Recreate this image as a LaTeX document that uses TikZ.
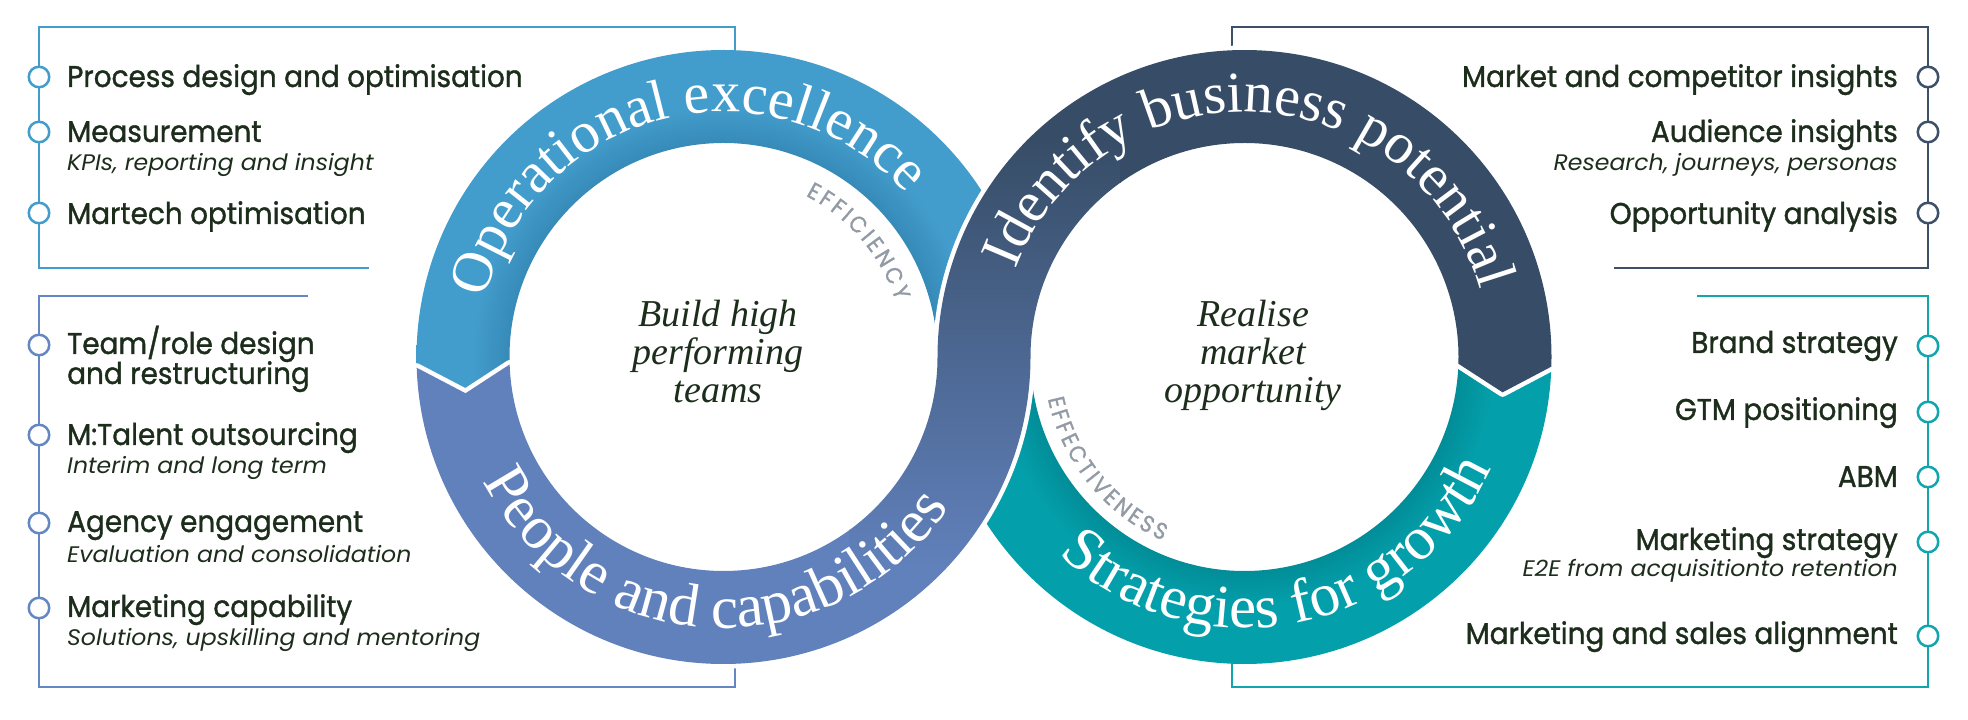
\documentclass[tikz,border=0pt]{standalone}
\usepackage{fontspec}
\usetikzlibrary{calc,decorations.text}

\newfontfamily\itemfont{Poppins}[FakeStretch=0.93, FakeBold=1.2]
\newfontfamily\subfont{Poppins}[FakeStretch=1.05]
\newfontfamily\ringfont{Liberation Serif}

\definecolor{opblue}{RGB}{67,157,204}
\definecolor{opbluedark}{RGB}{54,138,184}
\definecolor{purp}{RGB}{97,129,188}
\definecolor{navy}{RGB}{55,77,103}
\definecolor{teal}{RGB}{3,160,171}
\definecolor{tealdark}{RGB}{2,141,152}
\definecolor{ink}{RGB}{29,45,28}
\definecolor{labelgray}{RGB}{146,154,165}
\definecolor{purpline}{RGB}{100,135,196}
\definecolor{navyline}{RGB}{62,80,104}
\definecolor{tealline}{RGB}{17,165,174}

% darker towards the inner edge of a ring
\pgfdeclareradialshading{blueinner}{\pgfpoint{0bp}{0bp}}{color(0bp)=(opbluedark); color(17.4bp)=(opbluedark); color(20.5bp)=(opblue); color(50bp)=(opblue)}
\pgfdeclareradialshading{tealinner}{\pgfpoint{0bp}{0bp}}{color(0bp)=(tealdark); color(17.4bp)=(tealdark); color(20.5bp)=(teal); color(50bp)=(teal)}

\newcommand{\ringlabel}{\ringfont\fontsize{58}{60}\selectfont\color{white}}
\newcommand{\ringlabelb}{\ringfont\fontsize{61}{64}\selectfont\color{white}}
\newcommand{\graylabel}{\itemfont\fontsize{23}{25}\selectfont\color{labelgray}}

% the band that goes over at the crossing
\newcommand{\overband}{($(L)+(182:307pt)$) arc[start angle=182, end angle=360, radius=307pt]
  arc[start angle=180, end angle=-1.8, radius=214pt]
  -- ($(R)+(-7.8:260.5pt)$) -- ($(R)+(-1.8:307pt)$)
  arc[start angle=-1.8, end angle=180, radius=307pt]
  arc[start angle=0, end angle=-178, radius=214pt]
  -- ($(L)+(188:260.5pt)$) -- cycle}

\tikzset{
  frame/.style={draw=#1, line width=2.5pt},
  bullet/.style={circle, draw=#1, fill=white, line width=2.5pt, minimum size=20.5pt, inner sep=0pt},
  item/.style={font=\itemfont\fontsize{30}{36}\selectfont, text=ink, inner sep=0pt},
  itemsub/.style={font=\subfont\itshape\fontsize{22.5}{27}\selectfont, text=ink, inner sep=0pt},
  centre/.style={font=\ringfont\itshape\fontsize{38}{44}\selectfont, text=ink, inner sep=0pt, anchor=base},
}

\begin{document}
\begin{tikzpicture}[x=1pt,y=1pt]
\useasboundingbox (0,0) rectangle (1968,720);
\coordinate (L) at (723.5,363);
\coordinate (R) at (1244.5,363);

% frames
\draw[frame=opblue] (369,452) -- (39,452) -- (39,693) -- (735,693) -- (735,670);
\draw[frame=purpline] (308,424) -- (39,424) -- (39,33) -- (735,33) -- (735,57);
\draw[frame=navyline] (1614,452) -- (1928,452) -- (1928,693) -- (1232,693) -- (1232,670);
\draw[frame=tealline] (1697,424) -- (1928,424) -- (1928,33) -- (1232,33) -- (1232,57);

% bullets
\node[bullet=opblue] (b1) at (39,643) {};
\node[bullet=opblue] (b2) at (39,588) {};
\node[bullet=opblue] (b3) at (39,507) {};
\node[bullet=purpline] (b4) at (39,375) {};
\node[bullet=purpline] (b5) at (39,285) {};
\node[bullet=purpline] (b6) at (39,197) {};
\node[bullet=purpline] (b7) at (39,112) {};
\node[bullet=navyline] (b8) at (1928,643) {};
\node[bullet=navyline] (b9) at (1928,588) {};
\node[bullet=navyline] (b10) at (1928,507) {};
\node[bullet=tealline] (b11) at (1928,374) {};
\node[bullet=tealline] (b12) at (1928,308) {};
\node[bullet=tealline] (b13) at (1928,243) {};
\node[bullet=tealline] (b14) at (1928,178) {};
\node[bullet=tealline] (b15) at (1928,84) {};

% left items
\node[item, anchor=base west] (pdo) at (67,633) {Process design and optimisation};
\node[item, anchor=base west] (msr) at (67,578) {Measurement};
\node[itemsub, anchor=base west] (msrsub) at (67,549) {KPIs, reporting and insight};
\node[item, anchor=base west] (mto) at (67,496) {Martech optimisation};
\node[item, anchor=base west] (trd) at (67,366) {Team/role design};
\node[item, anchor=base west] (trdb) at (67,336) {and restructuring};
\node[item, anchor=base west] (mtal) at (67,275) {M:Talent outsourcing};
\node[itemsub, anchor=base west] (mtalsub) at (67,246) {Interim and long term};
\node[item, anchor=base west] (age) at (67,188) {Agency engagement};
\node[itemsub, anchor=base west] (agesub) at (67,157) {Evaluation and consolidation};
\node[item, anchor=base west] (mcap) at (67,103) {Marketing capability};
\node[itemsub, anchor=base west] (mcapsub) at (67,74) {Solutions, upskilling and mentoring};

% right items
\node[item, anchor=base east] (mci) at (1898,633) {Market and competitor insights};
\node[item, anchor=base east] (aud) at (1898,578) {Audience insights};
\node[itemsub, anchor=base east] (audsub) at (1898,549) {Research, journeys, personas};
\node[item, anchor=base east] (opp) at (1898,496) {Opportunity analysis};
\node[item, anchor=base east] (brand) at (1898,367) {Brand strategy};
\node[item, anchor=base east] (gtm) at (1898,300) {GTM positioning};
\node[item, anchor=base east] (abm) at (1898,233) {ABM};
\node[item, anchor=base east] (mks) at (1898,170) {Marketing strategy};
\node[itemsub, anchor=base east] (mkssub) at (1898,143) {E2E from acquisitionto retention};
\node[item, anchor=base east] (msa) at (1898,76) {Marketing and sales alignment};

% bands that go under
\begin{scope}
\clip ($(L)+(-4:307pt)$) arc[start angle=-4, end angle=182, radius=307pt]
  -- ($(L)+(188:260.5pt)$) -- ($(L)+(182:214pt)$)
  arc[start angle=182, end angle=-4, radius=214pt] -- cycle;
\shade[shading=blueinner] (L) circle (307pt);
\end{scope}
\begin{scope}
\clip ($(R)+(-1.8:307pt)$) arc[start angle=-1.8, end angle=-176, radius=307pt]
  -- ($(R)+(-176:214pt)$) arc[start angle=-176, end angle=-1.8, radius=214pt] -- cycle;
\shade[shading=tealinner] (R) circle (307pt);
\end{scope}

% band that goes over
\draw[white, line width=9pt, line join=round] \overband;
\begin{scope}
\clip \overband;
\fill[purp] (0,0) rectangle (850,720);
\fill[purp] (849,0) rectangle (1121,151);
\shade[bottom color=purp, top color=navy] (849,150) rectangle (1121,580);
\fill[navy] (849,579) rectangle (1121,720);
\fill[navy] (1120,0) rectangle (1968,720);
\end{scope}

% ring labels
\path[decorate, decoration={text along path, text align=center, text={|\ringlabel|Operational excellence}}]
  ($(L)+(184:245pt)$) arc[start angle=184, end angle=24, radius=245pt];
\path[decorate, decoration={text along path, text align=center, text={|\ringlabel|Identify business potential}}]
  ($(R)+(167.6:245pt)$) arc[start angle=167.6, end angle=7.6, radius=245pt];
\path[decorate, decoration={text along path, text align=center, text={|\ringlabelb|People and capabilities}}]
  ($(L)+(186.8:271pt)$) arc[start angle=186.8, end angle=346.8, radius=271pt];
\path[decorate, decoration={text along path, text align=center, text={|\ringlabelb|Strategies for growth}}]
  ($(R)+(201.2:271pt)$) arc[start angle=201.2, end angle=361.2, radius=271pt];

\path[decorate, decoration={text along path, text align=fit to path, text={|\graylabel|EFFICIENCY}}]
  ($(L)+(63:181pt)$) arc[start angle=63, end angle=18, radius=181pt];
\path[decorate, decoration={text along path, text align=fit to path, text={|\graylabel|EFFECTIVENESS}}]
  ($(R)+(192:201pt)$) arc[start angle=192, end angle=246, radius=201pt];

% centre texts
\node[centre] (bh1) at (718,393) {Build high};
\node[centre] (bh2) at (718,355) {performing};
\node[centre] (bh3) at (718,317) {teams};
\node[centre] (rm1) at (1253,393) {Realise};
\node[centre] (rm2) at (1253,355) {market};
\node[centre] (rm3) at (1253,317) {opportunity};

\end{tikzpicture}
\end{document}
